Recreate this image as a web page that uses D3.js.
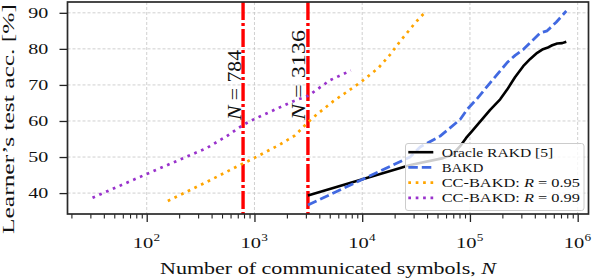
<!DOCTYPE html>
<html>
<head>
<meta charset="utf-8">
<script src="https://cdn.jsdelivr.net/npm/d3@7"></script>
<style>
  html, body { margin: 0; padding: 0; background: #fff; }
  svg { display: block; font-family: "Liberation Serif", "Times New Roman", serif; }
</style>
</head>
<body>
<div id="chart"></div>
<script>
/* series values: symbols N and test accuracy [%] */
const oracleN   = [3136, 28000, 56400, 68300, 81100, 92200, 104600, 124300, 154000, 190800,
                   221500, 262800, 312200, 362600, 421100, 468700, 521700, 580200, 645700, 718600, 784000];
const oracleAcc = [39.3, 47.8, 49.7, 50.6, 53.0, 55.3, 57.2, 59.8, 63.1, 66.0,
                   68.7, 72.2, 75.2, 77.2, 78.9, 79.8, 80.3, 81.0, 81.5, 81.6, 82.0];

const bakdN   = [3136, 27840, 34480, 52900, 81100, 94200, 116700, 154000, 221500,
                 262800, 312200, 370000, 448600, 521000, 631700, 784000];
const bakdAcc = [36.7, 50.0, 52.8, 55.8, 60.4, 63.2, 66.2, 70.6, 76.2,
                 78.2, 79.8, 82.0, 84.4, 85.0, 87.4, 90.5];

const cc95N   = [157, 361, 735, 991, 1729, 2382, 3078, 3788, 5403, 7720,
                 9915, 14140, 18160, 22490, 30990, 38400];
const cc95Acc = [37.8, 43.1, 47.8, 49.7, 53.5, 56.0, 59.4, 61.8, 65.5, 68.7,
                 71.0, 74.7, 78.4, 82.1, 87.2, 90.2];

const cc99N   = [31.4, 100, 235, 361, 553, 784, 944, 2300, 3160, 5030, 7840];
const cc99Acc = [38.7, 45.3, 50.1, 52.5, 55.8, 58.9, 60.2, 65.5, 67.0, 71.3, 74.0];

const markerN      = [784, 3136];
const markerLabels = ["784", "3136"];

const xMajorExp = [2, 3, 4, 5, 6];
const yTicks    = [40, 50, 60, 70, 80, 90];

const legendLabels = ["Oracle RAKD [5]", "BAKD", "CC-BAKD: R = 0.95", "CC-BAKD: R = 0.99"];

const width = 594, height = 278;
const plot = { left: 67.5, right: 588.5, top: 2, bottom: 214 };

const x = d3.scaleLog().domain([18.4, 1.26e6]).range([plot.left, plot.right]);
const y = d3.scaleLinear().domain([34.2, 93.0]).range([plot.bottom, plot.top]);

const svg = d3.select("#chart").append("svg")
  .attr("width", width)
  .attr("height", height);

const majors = xMajorExp.map(e => Math.pow(10, e));
const minors = [];
for (let e = 1; e <= 5; e++) {
  for (let m = 2; m <= 9; m++) {
    const v = m * Math.pow(10, e);
    if (v >= x.domain()[0] && v <= x.domain()[1]) minors.push(v);
  }
}

/* grid */
const grid = svg.append("g")
  .attr("stroke", "#c4c4c4")
  .attr("stroke-width", 0.8)
  .attr("stroke-dasharray", "3,2");

grid.selectAll("line.gx")
  .data(majors)
  .join("line")
    .attr("class", "gx")
    .attr("x1", d => x(d)).attr("x2", d => x(d))
    .attr("y1", plot.top).attr("y2", plot.bottom);

grid.selectAll("line.gy")
  .data(yTicks)
  .join("line")
    .attr("class", "gy")
    .attr("x1", plot.left).attr("x2", plot.right)
    .attr("y1", d => y(d)).attr("y2", d => y(d));

/* red marker lines */
svg.append("g")
  .selectAll("line")
  .data(markerN)
  .join("line")
    .attr("x1", d => x(d)).attr("x2", d => x(d))
    .attr("y1", plot.top).attr("y2", plot.bottom)
    .attr("stroke", "#ff0000")
    .attr("stroke-width", 3.4)
    .attr("stroke-dasharray", "18,3,3,3");

/* curves */
const line = d3.line()
  .x(d => x(d[0]))
  .y(d => y(d[1]));

const series = [
  { n: oracleN, acc: oracleAcc, color: "#000000", width: 2.6, dash: null },
  { n: bakdN,   acc: bakdAcc,   color: "#4169e1", width: 2.8, dash: "9.5,4" },
  { n: cc95N,   acc: cc95Acc,   color: "#ffa500", width: 2.7, dash: "2.7,4.7" },
  { n: cc99N,   acc: cc99Acc,   color: "#9932cc", width: 2.7, dash: "2.7,4.7" }
];

svg.append("g")
  .selectAll("path")
  .data(series)
  .join("path")
    .attr("d", s => line(s.n.map((v, i) => [v, s.acc[i]])))
    .attr("fill", "none")
    .attr("stroke", s => s.color)
    .attr("stroke-width", s => s.width)
    .attr("stroke-dasharray", s => s.dash)
    .attr("stroke-linejoin", "round");

/* N = ... labels */
svg.append("g")
  .selectAll("text")
  .data(markerN)
  .join("text")
    .attr("transform", d => `translate(${x(d) - 2.5},120) rotate(-90)`)
    .attr("font-size", 18)
    .attr("textLength", (d, i) => i === 0 ? 70 : 90)
    .attr("lengthAdjust", "spacingAndGlyphs")
    .attr("fill", "#111")
    .each(function (d, i) {
      const t = d3.select(this);
      t.append("tspan").attr("font-style", "italic").text("N");
      t.append("tspan").text(" = " + markerLabels[i]);
    });

/* axes: ticks */
svg.append("g")
  .attr("transform", `translate(0,${plot.bottom})`)
  .call(d3.axisBottom(x).tickValues(majors).tickSize(8).tickFormat("").tickSizeOuter(0))
  .call(g => g.select(".domain").remove())
  .selectAll("line").attr("stroke", "#222").attr("stroke-width", 1.3);

svg.append("g")
  .attr("transform", `translate(0,${plot.bottom})`)
  .call(d3.axisBottom(x).tickValues(minors).tickSize(4.5).tickFormat("").tickSizeOuter(0))
  .call(g => g.select(".domain").remove())
  .selectAll("line").attr("stroke", "#222").attr("stroke-width", 1.1);

svg.append("g")
  .attr("transform", `translate(${plot.left},0)`)
  .call(d3.axisLeft(y).tickValues(yTicks).tickSize(8).tickFormat("").tickSizeOuter(0))
  .call(g => g.select(".domain").remove())
  .selectAll("line").attr("stroke", "#222").attr("stroke-width", 1.3);

/* frame */
svg.append("rect")
  .attr("x", plot.left).attr("y", plot.top)
  .attr("width", plot.right - plot.left)
  .attr("height", plot.bottom - plot.top)
  .attr("fill", "none")
  .attr("stroke", "#2a2a2a")
  .attr("stroke-width", 1.7);

/* tick labels */
svg.append("g")
  .selectAll("text")
  .data(yTicks)
  .join("text")
    .attr("x", 48.3)
    .attr("y", d => y(d) + 5)
    .attr("text-anchor", "end")
    .attr("font-size", 14.5)
    .attr("textLength", 20)
    .attr("lengthAdjust", "spacingAndGlyphs")
    .attr("fill", "#111")
    .text(d => d);

const xl = svg.append("g")
  .selectAll("g")
  .data(xMajorExp)
  .join("g")
    .attr("transform", e => `translate(${x(Math.pow(10, e))},0)`);

xl.append("text")
  .attr("x", -14)
  .attr("y", 247.7)
  .attr("font-size", 15)
  .attr("textLength", 20.5)
  .attr("lengthAdjust", "spacingAndGlyphs")
  .attr("fill", "#111")
  .text("10");

xl.append("text")
  .attr("x", 6.8)
  .attr("y", 241)
  .attr("font-size", 10.5)
  .attr("textLength", 6.6)
  .attr("lengthAdjust", "spacingAndGlyphs")
  .attr("fill", "#111")
  .text(e => e);

/* axis labels */
const xLab = svg.append("text")
  .attr("x", 160)
  .attr("y", 274)
  .attr("font-size", 16.3)
  .attr("textLength", 336)
  .attr("lengthAdjust", "spacingAndGlyphs")
  .attr("fill", "#111");
xLab.append("tspan").text("Number of communicated symbols, ");
xLab.append("tspan").attr("font-style", "italic").text("N");

svg.append("text")
  .attr("transform", "translate(13.8,234) rotate(-90)")
  .attr("font-size", 17)
  .attr("textLength", 230)
  .attr("lengthAdjust", "spacingAndGlyphs")
  .attr("fill", "#111")
  .text("Learner\u2019s test acc. [%]");

/* legend */
const legend = svg.append("g");

legend.append("rect")
  .attr("x", 405.5).attr("y", 143.5)
  .attr("width", 178.5).attr("height", 67)
  .attr("rx", 2.5)
  .attr("fill", "#fff")
  .attr("fill-opacity", 0.8)
  .attr("stroke", "#cccccc")
  .attr("stroke-width", 1);

const rowY = i => 156.7 + i * 15.2;
const textLen = [111.6, 41.6, 138.3, 138.3];

const rows = legend.selectAll("g.row")
  .data(series)
  .join("g")
    .attr("class", "row");

rows.append("line")
  .attr("x1", 408.3).attr("x2", 433.3)
  .attr("y1", (d, i) => rowY(i) - 4.5)
  .attr("y2", (d, i) => rowY(i) - 4.5)
  .attr("stroke", s => s.color)
  .attr("stroke-width", s => s.width)
  .attr("stroke-dasharray", s => s.dash);

rows.append("text")
  .attr("x", 441.7)
  .attr("y", (d, i) => rowY(i))
  .attr("font-size", 12.5)
  .attr("textLength", (d, i) => textLen[i])
  .attr("lengthAdjust", "spacingAndGlyphs")
  .attr("fill", "#111")
  .each(function (d, i) {
    const t = d3.select(this);
    const label = legendLabels[i];
    const m = label.match(/^(.*: )R( = .*)$/);
    if (m) {
      t.append("tspan").text(m[1]);
      t.append("tspan").attr("font-style", "italic").text("R");
      t.append("tspan").text(m[2]);
    } else {
      t.text(label);
    }
  });
</script>
</body>
</html>
